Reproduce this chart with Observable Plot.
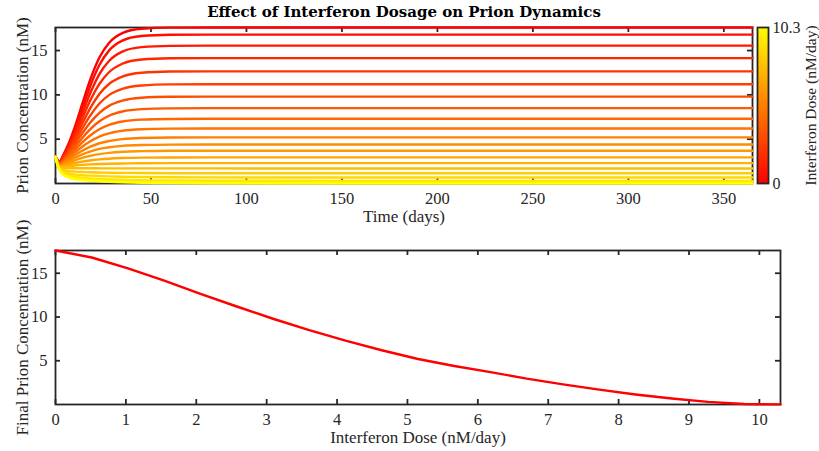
<!DOCTYPE html>
<html><head><meta charset="utf-8">
<script src="https://cdn.jsdelivr.net/npm/d3@7"></script>
<script src="https://cdn.jsdelivr.net/npm/@observablehq/plot@0.6"></script>
<style>
body{margin:0;background:#fff;}
#chart{position:relative;width:819px;height:451px;background:#fff;overflow:hidden;}
#chart svg{position:absolute;background:transparent;overflow:visible;}
</style></head><body><div id="chart"></div>
<script>
// ---- data ----
const titleText = "Effect of Interferon Dosage on Prion Dynamics";
const timeLabel = "Time (days)";
const concLabel = "Prion Concentration (nM)";
const doseLabel = "Interferon Dose (nM/day)";
const finalLabel = "Final Prion Concentration (nM)";

const times = [0, 1, 2, 4, 7, 10, 14, 18, 23, 28, 35, 45, 60, 80, 110, 150, 365];
const doses = [0, 0.515, 1.03, 1.545, 2.06, 2.575, 3.09, 3.605, 4.12, 4.635, 5.15,
               5.665, 6.18, 6.695, 7.21, 7.725, 8.24, 8.755, 9.27, 9.785, 10.3];
const concentrationByDose = [
  [3.0, 2.67, 2.45, 3.18, 4.57, 6.31, 8.97, 11.6, 14.21, 15.86, 16.97, 17.46, 17.59, 17.6, 17.6, 17.6, 17.6],
  [3.0, 2.643, 2.405, 3.09, 4.39, 5.99, 8.45, 10.89, 13.37, 14.99, 16.12, 16.64, 16.78, 16.8, 16.8, 16.8, 16.8],
  [3.0, 2.616, 2.36, 3.01, 4.21, 5.68, 7.90, 10.09, 12.34, 13.82, 14.88, 15.39, 15.53, 15.55, 15.55, 15.55, 15.55],
  [3.0, 2.589, 2.315, 2.92, 4.03, 5.36, 7.33, 9.27, 11.24, 12.55, 13.51, 13.99, 14.13, 14.15, 14.15, 14.15, 14.15],
  [3.0, 2.562, 2.27, 2.83, 3.84, 5.03, 6.75, 8.42, 10.10, 11.23, 12.07, 12.50, 12.63, 12.65, 12.65, 12.65, 12.65],
  [3.0, 2.535, 2.225, 2.74, 3.66, 4.70, 6.19, 7.60, 9.02, 9.97, 10.68, 11.06, 11.18, 11.2, 11.2, 11.2, 11.2],
  [3.0, 2.508, 2.18, 2.65, 3.47, 4.38, 5.65, 6.82, 7.98, 8.76, 9.35, 9.67, 9.78, 9.8, 9.8, 9.8, 9.8],
  [3.0, 2.481, 2.135, 2.56, 3.28, 4.07, 5.13, 6.08, 7.02, 7.64, 8.12, 8.39, 8.48, 8.5, 8.5, 8.5, 8.5],
  [3.0, 2.454, 2.09, 2.47, 3.10, 3.76, 4.63, 5.39, 6.12, 6.61, 6.99, 7.21, 7.28, 7.3, 7.3, 7.3, 7.3],
  [3.0, 2.427, 2.045, 2.38, 2.92, 3.46, 4.15, 4.74, 5.30, 5.66, 5.95, 6.12, 6.19, 6.2, 6.2, 6.2, 6.2],
  [3.0, 2.40, 2.0, 2.29, 2.73, 3.17, 3.69, 4.13, 4.54, 4.80, 5.01, 5.14, 5.19, 5.2, 5.2, 5.2, 5.2],
  [3.0, 2.373, 1.955, 2.19, 2.55, 2.88, 3.28, 3.60, 3.90, 4.09, 4.25, 4.35, 4.39, 4.4, 4.4, 4.4, 4.4],
  [3.0, 2.346, 1.91, 2.09, 2.36, 2.60, 2.89, 3.11, 3.32, 3.46, 3.58, 3.65, 3.69, 3.7, 3.7, 3.7, 3.7],
  [3.0, 2.319, 1.865, 1.99, 2.16, 2.31, 2.47, 2.60, 2.72, 2.80, 2.87, 2.92, 2.94, 2.95, 2.95, 2.95, 2.95],
  [3.0, 2.292, 1.82, 1.88, 1.96, 2.03, 2.10, 2.154, 2.20, 2.235, 2.264, 2.284, 2.296, 2.3, 2.3, 2.3, 2.3],
  [3.0, 2.265, 1.775, 1.749, 1.732, 1.724, 1.719, 1.715, 1.712, 1.709, 1.706, 1.704, 1.702, 1.701, 1.7, 1.7, 1.7],
  [3.0, 2.238, 1.73, 1.529, 1.397, 1.338, 1.296, 1.268, 1.241, 1.221, 1.2, 1.18, 1.164, 1.155, 1.151, 1.15, 1.15],
  [3.0, 2.211, 1.685, 1.337, 1.107, 1.006, 0.933, 0.884, 0.838, 0.803, 0.767, 0.733, 0.705, 0.689, 0.682, 0.68, 0.68],
  [3.0, 2.184, 1.64, 1.176, 0.87, 0.734, 0.637, 0.572, 0.511, 0.464, 0.416, 0.37, 0.333, 0.312, 0.303, 0.3, 0.3],
  [3.0, 2.157, 1.595, 1.064, 0.712, 0.557, 0.446, 0.372, 0.302, 0.248, 0.193, 0.14, 0.098, 0.074, 0.063, 0.06, 0.06],
  [3.0, 2.13, 1.55, 1.017, 0.665, 0.509, 0.397, 0.323, 0.253, 0.199, 0.143, 0.091, 0.048, 0.024, 0.013, 0.01, 0.01]
];
const finalConcentration = [17.6, 16.8, 15.55, 14.15, 12.65, 11.2, 9.8, 8.5, 7.3, 6.2, 5.2,
                            4.4, 3.7, 2.95, 2.3, 1.7, 1.15, 0.68, 0.3, 0.06, 0.01];

const timeTicks = [0, 50, 100, 150, 200, 250, 300, 350];
const concTicks = [5, 10, 15];
const doseTicks = [0, 1, 2, 3, 4, 5, 6, 7, 8, 9, 10];
const doseBarTicks = [0, 10.3];

// ---- styling ----
const FONT = "Liberation Serif";
const INK = "#262626";
const colorScale = {type: "linear", domain: [0, 10.3], range: ["#ff0000", "#ffff00"], interpolate: "rgb"};
const TICK = 5;

const rows = [];
concentrationByDose.forEach((vals, i) =>
  vals.forEach((p, j) => rows.push({dose: doses[i], t: times[j], p})));
const finals = doses.map((d, i) => ({dose: d, p: finalConcentration[i]}));

function boxTicks(xt, yt, innerW, innerH) {
  const s = {stroke: INK, strokeWidth: 1.8};
  return [
    Plot.tickX(xt, {x: d => d, insetTop: innerH - TICK, ...s}),
    Plot.tickX(xt, {x: d => d, insetBottom: innerH - TICK, ...s}),
    Plot.tickY(yt, {y: d => d, insetRight: innerW - TICK, ...s}),
    Plot.tickY(yt, {y: d => d, insetLeft: innerW - TICK, ...s})
  ];
}
const baseStyle = {fontFamily: FONT, fontSize: "16.5px", color: INK, background: "transparent", overflow: "visible"};

const chart = document.getElementById("chart");

// ---- top: time courses ----
const tW = 819, tH = 230, tML = 55, tMR = 67, tMT = 27, tMB = 47;
const topPlot = Plot.plot({
  width: tW, height: tH, marginLeft: tML, marginRight: tMR, marginTop: tMT, marginBottom: tMB,
  style: baseStyle,
  x: {domain: [0, 365]},
  y: {domain: [0, 17.6]},
  color: colorScale,
  marks: [
    Plot.frame({stroke: INK, strokeWidth: 1.8}),
    ...boxTicks(timeTicks, concTicks, tW - tML - tMR, tH - tMT - tMB),
    Plot.line(rows, {x: "t", y: "p", z: "dose", stroke: "dose", strokeWidth: 2.4, curve: "monotone-x"}),
    Plot.axisX(timeTicks, {tickSize: 0, tickPadding: 9, label: null, fontSize: 16.5}),
    Plot.axisY(concTicks, {tickSize: 0, tickPadding: 8, label: null, fontSize: 16.5}),
    Plot.text([timeLabel], {text: d => d, frameAnchor: "bottom", lineAnchor: "middle", dy: 33, fontSize: 17, fill: INK}),
    Plot.text([concLabel], {text: d => d, frameAnchor: "left", textAnchor: "middle", lineAnchor: "middle",
                            dx: -33, rotate: -90, fontSize: 17, fill: INK}),
    Plot.text([titleText], {text: d => d, frameAnchor: "top", lineAnchor: "middle", dy: -15, fontSize: 15,
                            fontWeight: "bold", fontFamily: "DejaVu Serif", fill: "#000"})
  ]
});
topPlot.style.left = "0px"; topPlot.style.top = "0px";
chart.appendChild(topPlot);

// ---- colorbar ----
const bins = d3.range(64).map(i => ({lo: i * 10.3 / 64, hi: (i + 1) * 10.3 / 64, mid: (i + 0.5) * 10.3 / 64}));
const cbarPlot = Plot.plot({
  width: 67, height: 230, marginLeft: 5, marginRight: 51, marginTop: 27, marginBottom: 47,
  style: baseStyle,
  y: {domain: [0, 10.3]},
  color: colorScale,
  marks: [
    Plot.rect(bins, {y1: "lo", y2: "hi", fill: "mid", shapeRendering: "crispEdges"}),
    Plot.frame({stroke: INK, strokeWidth: 1.8}),
    Plot.axisY(doseBarTicks, {anchor: "right", tickSize: 0, tickPadding: 4, label: null,
                              tickFormat: d => String(d), fontSize: 16}),
    Plot.text([doseLabel], {text: d => d, frameAnchor: "right", textAnchor: "middle", lineAnchor: "middle",
                            dx: 42.5, rotate: -90, fontSize: 15.5, fill: INK})
  ]
});
cbarPlot.style.left = "752px"; cbarPlot.style.top = "0px";
chart.appendChild(cbarPlot);

// ---- bottom: final concentration vs dose ----
const bW = 819, bH = 236, bML = 55, bMR = 39, bMT = 35, bMB = 47;
const bottomPlot = Plot.plot({
  width: bW, height: bH, marginLeft: bML, marginRight: bMR, marginTop: bMT, marginBottom: bMB,
  style: baseStyle,
  x: {domain: [0, 10.3]},
  y: {domain: [0, 17.6]},
  marks: [
    Plot.frame({stroke: INK, strokeWidth: 1.8}),
    ...boxTicks(doseTicks, concTicks, bW - bML - bMR, bH - bMT - bMB),
    Plot.line(finals, {x: "dose", y: "p", stroke: "#ff0000", strokeWidth: 2.4}),
    Plot.axisX(doseTicks, {tickSize: 0, tickPadding: 9, label: null, fontSize: 16.5}),
    Plot.axisY(concTicks, {tickSize: 0, tickPadding: 8, label: null, fontSize: 16.5}),
    Plot.text([doseLabel], {text: d => d, frameAnchor: "bottom", lineAnchor: "middle", dy: 33, fontSize: 17, fill: INK}),
    Plot.text([finalLabel], {text: d => d, frameAnchor: "left", textAnchor: "middle", lineAnchor: "middle",
                             dx: -33, rotate: -90, fontSize: 17, fill: INK})
  ]
});
bottomPlot.style.left = "0px"; bottomPlot.style.top = "215px";
chart.appendChild(bottomPlot);
</script></body></html>
